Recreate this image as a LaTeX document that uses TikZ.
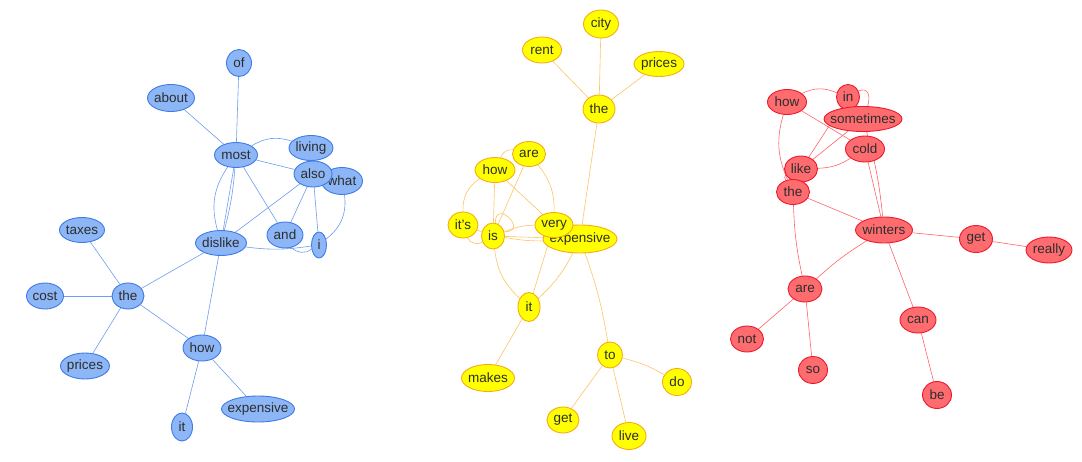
\documentclass[tikz,border=0pt]{standalone}
\usepackage{fontspec}
\setmainfont{Liberation Sans}
\usetikzlibrary{shapes.geometric, backgrounds}

\definecolor{wordtext}{RGB}{45,45,45}
\definecolor{blufill}{RGB}{141,182,247}
\definecolor{bluline}{RGB}{62,122,232}
\definecolor{bluedge}{RGB}{110,158,240}
\definecolor{yelfill}{RGB}{255,255,0}
\definecolor{yelline}{RGB}{245,172,20}
\definecolor{yeledge}{RGB}{255,196,100}
\definecolor{redfill}{RGB}{255,108,112}
\definecolor{redline}{RGB}{236,24,44}
\definecolor{rededge}{RGB}{255,100,104}

\tikzset{
  word/.style={ellipse, draw, line width=0.9pt, inner sep=0pt, text=wordtext,
    font=\fontsize{13.5}{15}\selectfont,
    execute at begin node={\hbox to 0pt\bgroup\hss},
    execute at end node={\hss\egroup}},
  sz/.style 2 args={minimum width=#1, minimum height=#2},
  blueword/.style={word, fill=blufill, draw=bluline},
  yellowword/.style={word, fill=yelfill, draw=yelline},
  redword/.style={word, fill=redfill, draw=redline},
  bluelink/.style={draw=bluedge, line width=0.6pt},
  yellowlink/.style={draw=yeledge, line width=0.6pt},
  redlink/.style={draw=rededge, line width=0.6pt}
}

\begin{document}
\begin{tikzpicture}[x=1pt, y=-1pt]
  \useasboundingbox (0,0) rectangle (1082,461);

  % blue cluster
  \node[blueword, sz={25}{27}] (bof) at (239,63) {of};
  \node[blueword, sz={47}{27}] (babout) at (171,98) {about};
  \node[blueword, sz={43}{25}] (bmost) at (236,155) {most};
  \node[blueword, sz={44}{25}] (bliving) at (311,148) {living};
  \node[blueword, sz={41}{27}] (bwhat) at (342,181) {what};
  \node[blueword, sz={38}{26}] (balso) at (313,174) {also};
  \node[blueword, sz={36}{26}] (band) at (285,235) {and};
  \node[blueword, sz={15}{26}] (bi) at (319,245) {i};
  \node[blueword, sz={51}{25}] (bdislike) at (221,243) {dislike};
  \node[blueword, sz={45}{25}] (btaxes) at (82,230) {taxes};
  \node[blueword, sz={32}{26}] (bthe) at (128,296) {the};
  \node[blueword, sz={37}{26}] (bcost) at (45,296) {cost};
  \node[blueword, sz={49}{26}] (bprices) at (85,366) {prices};
  \node[blueword, sz={38}{26}] (bhow) at (202,348) {how};
  \node[blueword, sz={21}{28}] (bit) at (182,427) {it};
  \node[blueword, sz={73}{26}] (bexpensive) at (258,409) {expensive};

  % yellow cluster
  \node[yellowword, sz={35}{28}] (ycity) at (601,24) {city};
  \node[yellowword, sz={39}{26}] (yrent) at (542,50) {rent};
  \node[yellowword, sz={50}{25}] (yprices) at (659,64) {prices};
  \node[yellowword, sz={32}{28}] (ythe) at (599,109) {the};
  \node[yellowword, sz={40}{25}] (yhow) at (495,170) {how};
  \node[yellowword, sz={33}{25}] (yare) at (529,154) {are};
  \node[yellowword, sz={30}{26}] (yits) at (463,225) {it's};
  \node[yellowword, sz={23}{26}] (yis) at (493,236) {is};
  \node[yellowword, sz={74}{28}] (yexpensive) at (580,239) {expensive};
  \node[yellowword, sz={38}{25}] (yvery) at (554,225) {very};
  \node[yellowword, sz={22}{29}] (yit) at (529,307) {it};
  \node[yellowword, sz={53}{27}] (ymakes) at (488,378) {makes};
  \node[yellowword, sz={25}{26}] (yto) at (610,355) {to};
  \node[yellowword, sz={29}{27}] (ydo) at (677,382) {do};
  \node[yellowword, sz={32}{26}] (yget) at (563,420) {get};
  \node[yellowword, sz={34}{27}] (ylive) at (629,436) {live};

  % red cluster
  \node[redword, sz={39}{25}] (rhow) at (787,102) {how};
  \node[redword, sz={23}{25}] (rin) at (848,97) {in};
  \node[redword, sz={78}{25}] (rsometimes) at (863,119) {sometimes};
  \node[redword, sz={39}{26}] (rcold) at (865,149) {cold};
  \node[redword, sz={33}{26}] (rlike) at (801,169) {like};
  \node[redword, sz={33}{25}] (rthe) at (793,192) {the};
  \node[redword, sz={57}{26}] (rwinters) at (884,230) {winters};
  \node[redword, sz={33}{27}] (rget) at (976,239) {get};
  \node[redword, sz={46}{26}] (rreally) at (1049,250) {really};
  \node[redword, sz={34}{26}] (rare) at (805,289) {are};
  \node[redword, sz={33}{26}] (rnot) at (747,339) {not};
  \node[redword, sz={29}{27}] (rso) at (813,370) {so};
  \node[redword, sz={36}{26}] (rcan) at (918,320) {can};
  \node[redword, sz={29}{27}] (rbe) at (937,395) {be};

  \begin{scope}[on background layer]
    \fill[white] (0,0) rectangle (1082,461);

    % blue links
    \draw[bluelink] (bof) -- (bmost);
    \draw[bluelink] (babout) -- (bmost);
    \draw[bluelink] (bmost) -- (bdislike);
    \draw[bluelink] (bmost) to[bend left=5] (bdislike);
    \draw[bluelink] (bmost) to[bend right=25] (bdislike);
    \draw[bluelink] (bmost) -- (band);
    \draw[bluelink] (bmost) -- (balso);
    \draw[bluelink] (bmost) to[bend left=25] (bliving);
    \draw[bluelink] (balso) -- (bdislike);
    \draw[bluelink] (balso) -- (band);
    \draw[bluelink] (balso) -- (bi);
    \draw[bluelink] (bwhat) to[bend left=30] (bi);
    \draw[bluelink] (bdislike) to[bend right=8] (bi);
    \draw[bluelink] (band) to[bend right=45] (bi);
    \draw[bluelink] (bdislike) -- (bthe);
    \draw[bluelink] (bdislike) -- (bhow);
    \draw[bluelink] (bthe) -- (btaxes);
    \draw[bluelink] (bthe) -- (bcost);
    \draw[bluelink] (bthe) -- (bprices);
    \draw[bluelink] (bthe) -- (bhow);
    \draw[bluelink] (bhow) -- (bit);
    \draw[bluelink] (bhow) -- (bexpensive);

    % yellow links
    \draw[yellowlink] (ythe) -- (ycity);
    \draw[yellowlink] (ythe) -- (yrent);
    \draw[yellowlink] (ythe) -- (yprices);
    \draw[yellowlink] (ythe) -- (yexpensive);
    \draw[yellowlink] (yexpensive) to[bend left=5] (yto);
    \draw[yellowlink] (yhow) to[bend left=40] (yare);
    \draw[yellowlink] (yhow) to[bend right=30] (yits);
    \draw[yellowlink] (yhow) -- (yis);
    \draw[yellowlink] (yhow) -- (yvery);
    \draw[yellowlink] (yare) to[bend left=20] (yvery);
    \draw[yellowlink] (yare) -- (yis);
    \draw[yellowlink] (yits) -- (yis);
    \draw[yellowlink] (yits) to[bend right=50] (yis);
    \draw[yellowlink] (yis.80) to[out=90, in=0, looseness=5] (yis.20);
    \draw[yellowlink] (yis) to[bend left=10] (yvery);
    \draw[yellowlink] (yis) -- (yexpensive);
    \draw[yellowlink] (yis) to[bend right=5] (yexpensive);
    \draw[yellowlink] (yis) to[bend right=20] (yit);
    \draw[yellowlink] (yit) -- (yvery);
    \draw[yellowlink] (yit) to[bend right=10] (yexpensive);
    \draw[yellowlink] (yit) -- (ymakes);
    \draw[yellowlink] (yto) -- (yget);
    \draw[yellowlink] (yto) -- (ylive);
    \draw[yellowlink] (yto) to[bend left=8] (ydo);

    % red links
    \draw[redlink] (rhow) to[bend left=25] (rin);
    \draw[redlink] (rhow) -- (rcold);
    \draw[redlink] (rhow) to[bend right=20] (rthe);
    \draw[redlink] (rin.30) .. controls +(10,-4) and +(3,-10) .. (rsometimes.70);
    \draw[redlink] (rlike) -- (rin);
    \draw[redlink] (rlike) -- (rsometimes);
    \draw[redlink] (rcold) to[bend left=15] (rlike);
    \draw[redlink] (rsometimes) to[bend left=5] (rwinters);
    \draw[redlink] (rcold) -- (rwinters);
    \draw[redlink] (rlike) -- (rthe);
    \draw[redlink] (rlike) to[bend right=50] (rthe);
    \draw[redlink] (rthe) -- (rwinters);
    \draw[redlink] (rthe) to[bend right=5] (rare);
    \draw[redlink] (rwinters) to[bend right=5] (rare);
    \draw[redlink] (rwinters) -- (rget);
    \draw[redlink] (rget) -- (rreally);
    \draw[redlink] (rwinters) -- (rcan);
    \draw[redlink] (rcan) -- (rbe);
    \draw[redlink] (rare) -- (rnot);
    \draw[redlink] (rare) -- (rso);
  \end{scope}
\end{tikzpicture}
\end{document}
